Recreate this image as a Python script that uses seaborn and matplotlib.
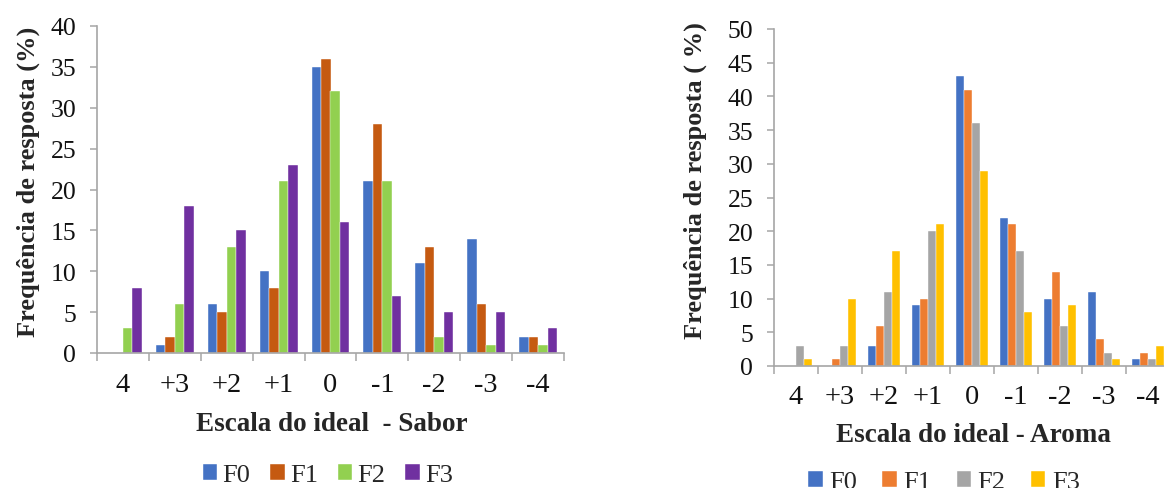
import numpy as np
import pandas as pd
import matplotlib
matplotlib.use("Agg")
import matplotlib.pyplot as plt
from matplotlib.ticker import FixedLocator
import seaborn as sns

# ---------------- data ----------------
categories = ["4", "+3", "+2", "+1", "0", "-1", "-2", "-3", "-4"]
series = ["F0", "F1", "F2", "F3"]

sabor_F0 = [0, 1, 6, 10, 35, 21, 11, 14, 2]
sabor_F1 = [0, 2, 5, 8, 36, 28, 13, 6, 2]
sabor_F2 = [3, 6, 13, 21, 32, 21, 2, 1, 1]
sabor_F3 = [8, 18, 15, 23, 16, 7, 5, 5, 3]

aroma_F0 = [0, 0, 3, 9, 43, 22, 10, 11, 1]
aroma_F1 = [0, 1, 6, 10, 41, 21, 14, 4, 2]
aroma_F2 = [3, 3, 11, 20, 36, 17, 6, 2, 1]
aroma_F3 = [1, 10, 17, 21, 29, 8, 9, 1, 3]

sabor_yticks = list(range(0, 41, 5))
aroma_yticks = list(range(0, 51, 5))

sabor_colors = ["#4472C4", "#C55A11", "#92D050", "#7030A0"]
aroma_colors = ["#4472C4", "#ED7D31", "#A5A5A5", "#FFC000"]


def long_df(vals):
    rows = []
    for s, v in zip(series, vals):
        for c, y in zip(categories, v):
            rows.append({"Escala": c, "Serie": s, "Freq": y})
    return pd.DataFrame(rows)


df_sabor = long_df([sabor_F0, sabor_F1, sabor_F2, sabor_F3])
df_aroma = long_df([aroma_F0, aroma_F1, aroma_F2, aroma_F3])

# ---------------- style ----------------
sns.set_theme(style="white")
plt.rcParams["font.family"] = ["Liberation Serif", "DejaVu Serif"]
plt.rcParams["axes.linewidth"] = 1.1

W, H = 1164, 489
fig = plt.figure(figsize=(W / 100, H / 100), dpi=100)

axis_gray = "#A6A6A6"


def px_axes(x0, y_top, x1, y_bottom):
    return fig.add_axes([x0 / W, 1 - y_bottom / H, (x1 - x0) / W, (y_bottom - y_top) / H])


def draw(ax, df, colors, yticks, width, xpad):
    sns.barplot(data=df, x="Escala", y="Freq", hue="Serie", order=categories,
                hue_order=series, palette=colors, width=width, saturation=1,
                edgecolor="white", linewidth=0.3, ax=ax)
    ax.set_xlim(-0.5, len(categories) - 0.5)
    ax.set_ylim(yticks[0], yticks[-1])
    ax.set_yticks(yticks)
    ax.set_xlabel("")
    ax.set_ylabel("")
    for s in ["top", "right"]:
        ax.spines[s].set_visible(False)
    for s in ["left", "bottom"]:
        ax.spines[s].set_color(axis_gray)
        ax.spines[s].set_linewidth(1.2)
    ax.tick_params(axis="y", which="major", direction="out", length=5, width=1.1,
                   color=axis_gray, labelsize=18.5, pad=10, left=True, labelcolor="#111111")
    ax.tick_params(axis="x", which="major", length=0, labelsize=20.5, pad=xpad,
                   labelcolor="#111111")
    ax.xaxis.set_minor_locator(FixedLocator(np.arange(-0.5, len(categories), 1.0)))
    ax.tick_params(axis="x", which="minor", direction="out", length=6, width=1.1,
                   color=axis_gray, bottom=True)
    ax.grid(False)
    leg = ax.get_legend()
    handles = leg.legend_handles
    labels = [t.get_text() for t in leg.texts]
    leg.remove()
    return handles, labels


# left chart: Sabor
ax1 = px_axes(97, 27, 564, 354)
h1, l1 = draw(ax1, df_sabor, sabor_colors, sabor_yticks, 0.73, 14)

# right chart: Aroma (extends past the right edge)
ax2 = px_axes(774, 30, 1170, 367)
h2, l2 = draw(ax2, df_aroma, aroma_colors, aroma_yticks, 0.715, 13)

# axis titles
fig.text(28 / W, 1 - 182 / H, "Frequência de resposta (%)", rotation=90,
         ha="center", va="center", fontsize=19, fontweight="bold")
fig.text(332 / W, 1 - 425 / H, "Escala do ideal  - Sabor",
         ha="center", va="center", fontsize=19.5, fontweight="bold")
fig.text(695 / W, 1 - 181 / H, "Frequência de resposta ( %)", rotation=90,
         ha="center", va="center", fontsize=19, fontweight="bold")
fig.text(973 / W, 1 - 436 / H, "Escala do ideal - Aroma",
         ha="center", va="center", fontsize=19.5, fontweight="bold")

# legends
fig.legend(h1, l1, loc="center", bbox_to_anchor=(328 / W, 1 - 476 / H), ncol=4,
           frameon=False, fontsize=19, handlelength=0.55, handleheight=0.55,
           handletextpad=0.2, columnspacing=0.75, borderaxespad=0, borderpad=0)
fig.legend(h2, l2, loc="center", bbox_to_anchor=(944 / W, 1 - 483 / H), ncol=4,
           frameon=False, fontsize=19, handlelength=0.55, handleheight=0.55,
           handletextpad=0.25, columnspacing=0.95, borderaxespad=0, borderpad=0)

fig.savefig("out.png", dpi=100)
